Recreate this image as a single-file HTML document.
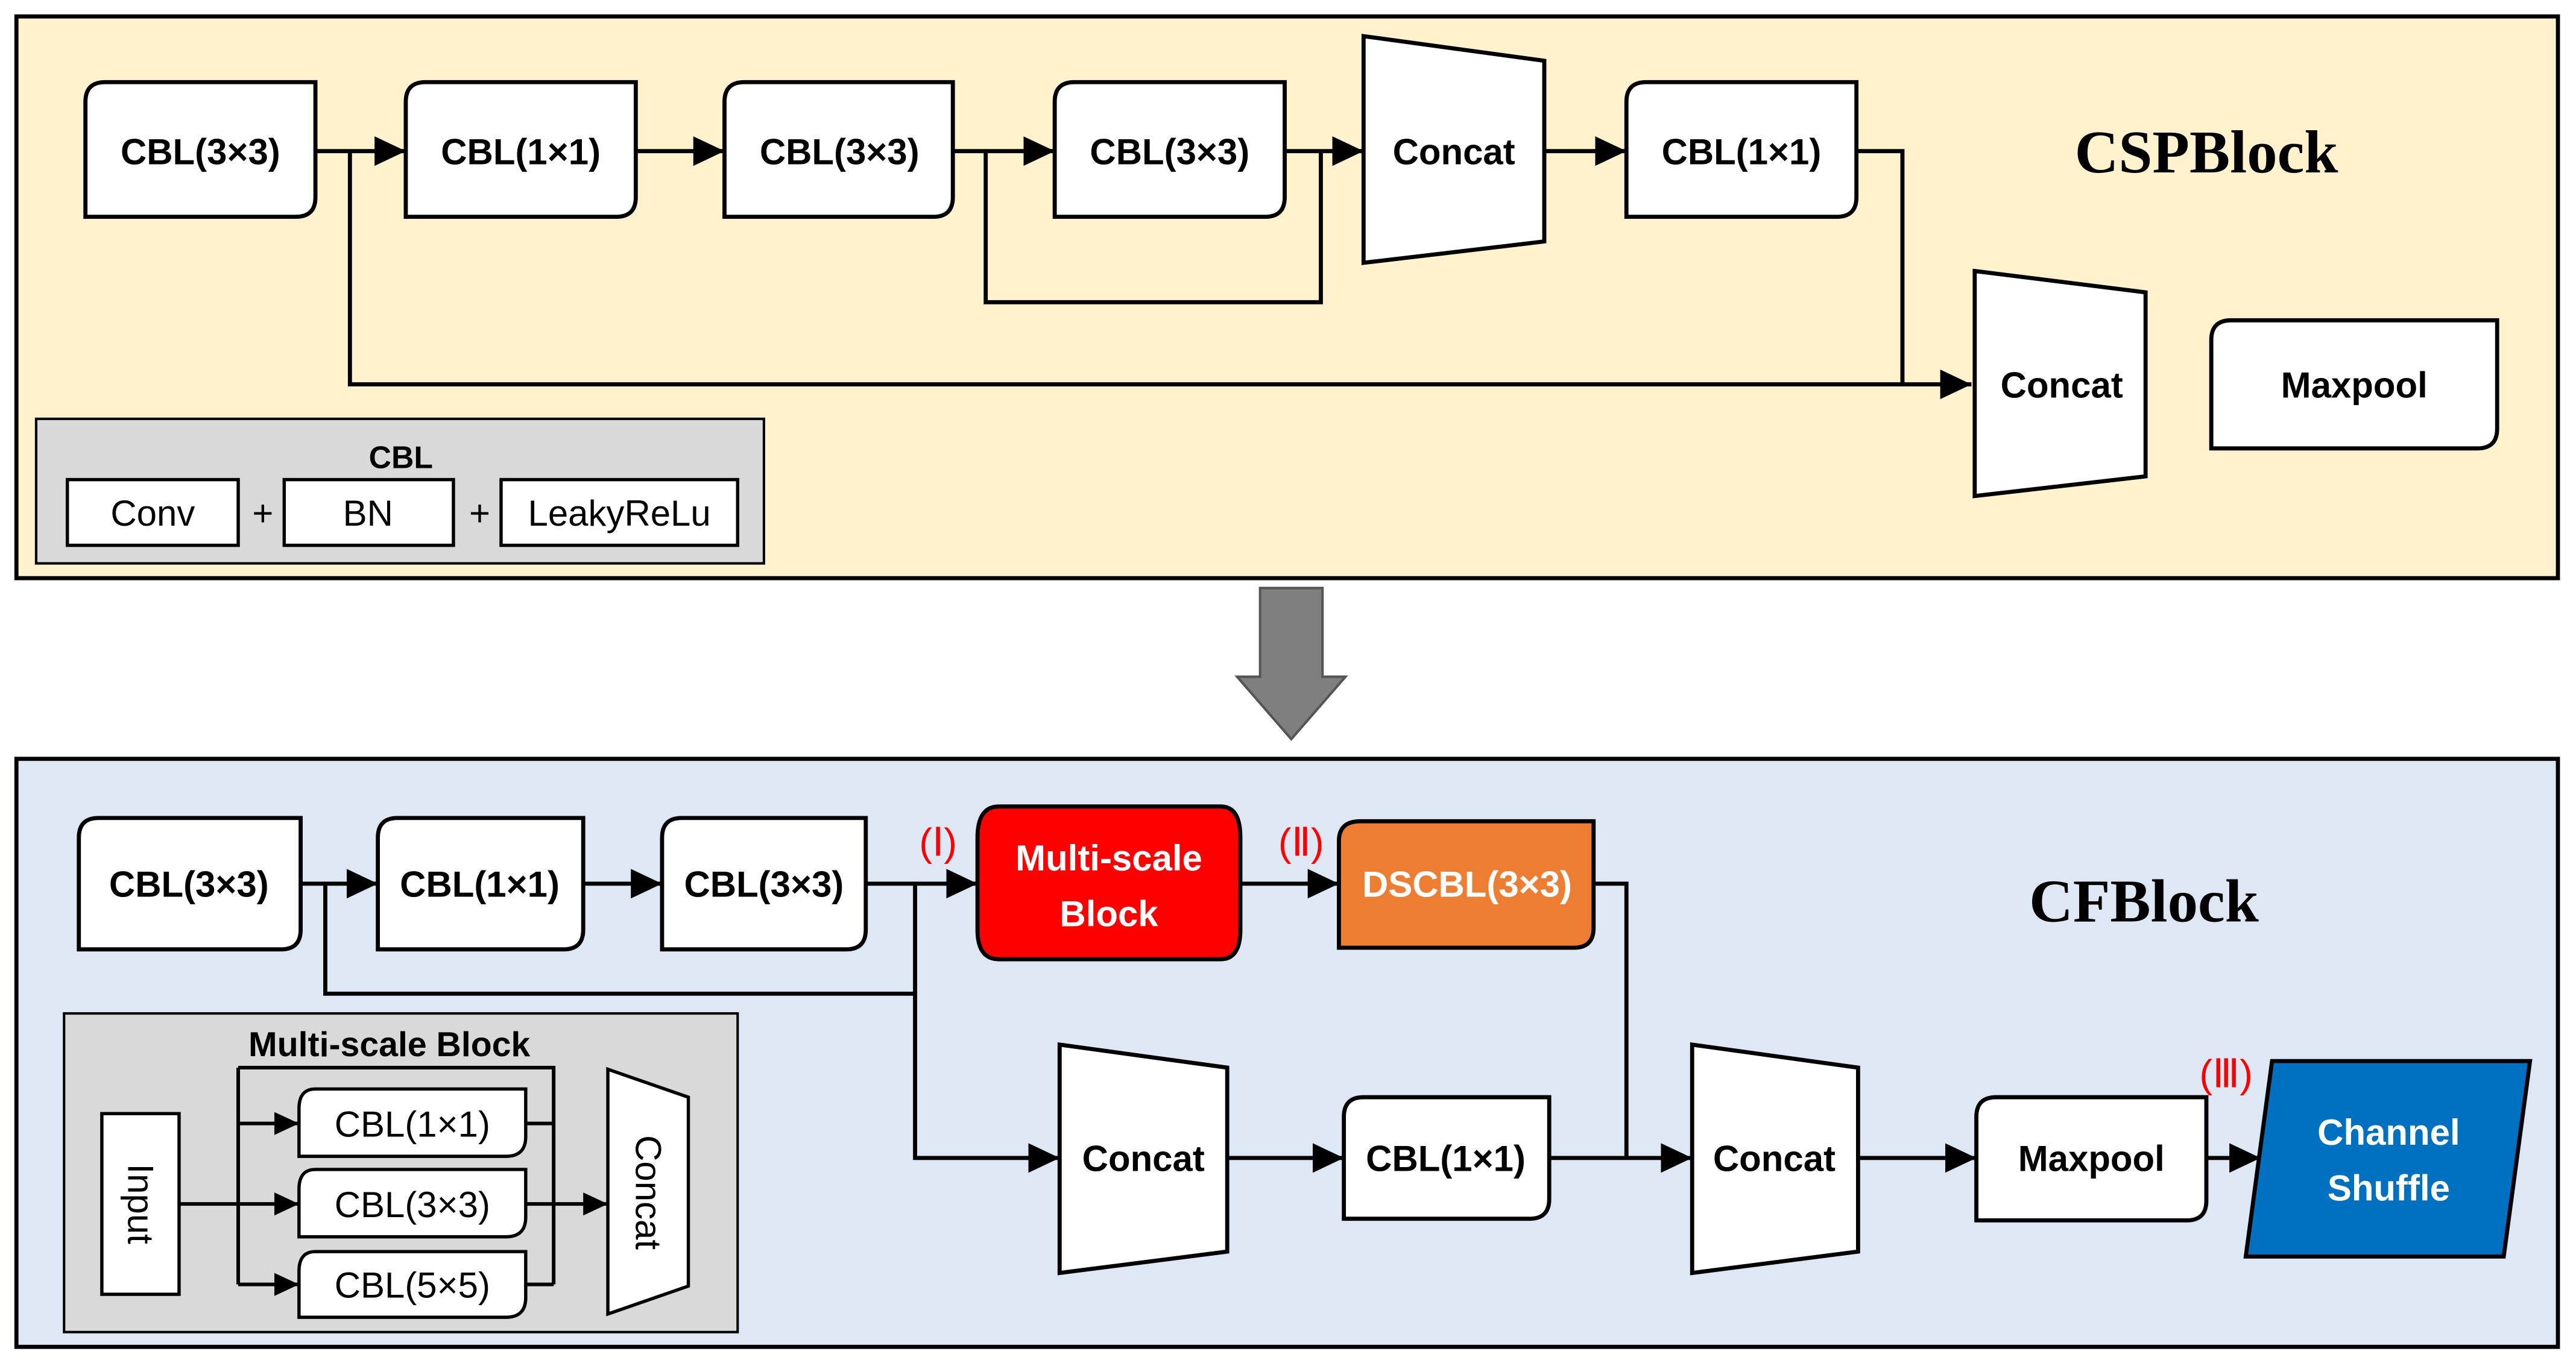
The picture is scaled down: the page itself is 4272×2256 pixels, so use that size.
<!DOCTYPE html>
<html><head><meta charset="utf-8"><style>
html,body{margin:0;padding:0;background:#fff;}
svg{display:block;}
text{font-family:"Liberation Sans",sans-serif;}
.b{font-weight:bold;font-size:22px;}
.n{font-size:22px;}
</style></head><body>
<svg width="4272" height="2256" viewBox="0 0 1568 828" preserveAspectRatio="none" xmlns="http://www.w3.org/2000/svg">
<defs>
<marker id="a" markerWidth="16" markerHeight="16" refX="15" refY="8" orient="auto" markerUnits="userSpaceOnUse"><path d="M0,1 L15,8 L0,15 Z" fill="#000"/></marker>
<marker id="A" markerWidth="20" markerHeight="20" refX="19" refY="10" orient="auto" markerUnits="userSpaceOnUse"><path d="M0,1 L19,10 L0,19 Z" fill="#000"/></marker>
</defs>
<!-- top panel -->
<rect x="10" y="10" width="1547" height="342" fill="#fff2cc" stroke="#000" stroke-width="2.5"/>
<g fill="#fff" stroke="#000" stroke-width="2.5">
<path d="M64,50 H192 V120 Q192,132 180,132 H52 V62 Q52,50 64,50 Z"/>
<path d="M259,50 H387 V120 Q387,132 375,132 H247 V62 Q247,50 259,50 Z"/>
<path d="M453,50 H580 V120 Q580,132 568,132 H441 V62 Q441,50 453,50 Z"/>
<path d="M654,50 H782 V120 Q782,132 770,132 H642 V62 Q642,50 654,50 Z"/>
<path d="M1002,50 H1130 V120 Q1130,132 1118,132 H990 V62 Q990,50 1002,50 Z"/>
<path d="M1358,195 H1520 V261 Q1520,273 1508,273 H1346 V207 Q1346,195 1358,195 Z"/>
<polygon points="830,22 940,37 940,147 830,160"/>
<polygon points="1202,165 1306,178 1306,290 1202,302"/>
</g>
<g stroke="#000" stroke-width="2.5" fill="none">
<line x1="192" y1="92" x2="247" y2="92" marker-end="url(#A)"/>
<polyline points="213,92 213,234 1200,234" marker-end="url(#A)"/>
<line x1="387" y1="92" x2="441" y2="92" marker-end="url(#A)"/>
<line x1="580" y1="92" x2="642" y2="92" marker-end="url(#A)"/>
<polyline points="600,92 600,184 804,184 804,92"/>
<line x1="782" y1="92" x2="830" y2="92" marker-end="url(#A)"/>
<line x1="940" y1="92" x2="990" y2="92" marker-end="url(#A)"/>
<polyline points="1130,92 1158,92 1158,234"/>
</g>
<g class="b" text-anchor="middle">
<text x="122" y="100">CBL(3×3)</text>
<text x="317" y="100">CBL(1×1)</text>
<text x="511" y="100">CBL(3×3)</text>
<text x="712" y="100">CBL(3×3)</text>
<text x="885" y="100">Concat</text>
<text x="1060" y="100">CBL(1×1)</text>
<text x="1255" y="242">Concat</text>
<text x="1433" y="242">Maxpool</text>
</g>
<text x="1343" y="105" text-anchor="middle" style="font-family:'Liberation Serif',serif;font-weight:bold;font-size:37px">CSPBlock</text>
<rect x="22" y="255" width="443" height="88" fill="#d9d9d9" stroke="#000" stroke-width="1.5"/>
<text x="244" y="285" text-anchor="middle" style="font-weight:bold;font-size:19px">CBL</text>
<g fill="#fff" stroke="#000" stroke-width="2">
<rect x="41" y="292" width="104" height="40"/><rect x="173" y="292" width="103" height="40"/><rect x="305" y="292" width="144" height="40"/>
</g>
<g class="n" text-anchor="middle">
<text x="93" y="320">Conv</text><text x="224" y="320">BN</text><text x="377" y="320">LeakyReLu</text>
<text x="160" y="320">+</text><text x="292" y="320">+</text>
</g>
<!-- big arrow -->
<polygon points="767,358 805,358 805,412 819,412 786,450 753,412 767,412" fill="#7f7f7f" stroke="#555" stroke-width="1.5"/>
<!-- bottom panel -->
<rect x="10" y="462" width="1547" height="358" fill="#dee8f4" stroke="#000" stroke-width="2.5"/>
<g fill="#fff" stroke="#000" stroke-width="2.5">
<path d="M60,498 H183 V566 Q183,578 171,578 H48 V510 Q48,498 60,498 Z"/>
<path d="M242,498 H355 V566 Q355,578 343,578 H230 V510 Q230,498 242,498 Z"/>
<path d="M415,498 H527 V566 Q527,578 515,578 H403 V510 Q403,498 415,498 Z"/>
<path d="M608,491 H743 Q755,491 755,510 V566 Q755,584 743,584 H608 Q595,584 595,566 V510 Q595,491 608,491 Z" fill="#ff0000"/>
<path d="M828,500 H970 V565 Q970,577 958,577 H815 V512 Q815,500 828,500 Z" fill="#ed7d31"/>
<path d="M830,668 H943 V730 Q943,742 931,742 H818 V680 Q818,668 830,668 Z"/>
<path d="M1215,668 H1343 V731 Q1343,743 1331,743 H1203 V680 Q1203,668 1215,668 Z"/>
<polygon points="645,636 747,650 747,762 645,775"/>
<polygon points="1030,636 1131,650 1131,762 1030,775"/>
<polygon points="1383,646 1540,646 1524,765 1367,765" fill="#0070c0"/>
</g>
<g stroke="#000" stroke-width="2.5" fill="none">
<line x1="183" y1="538" x2="230" y2="538" marker-end="url(#A)"/>
<polyline points="198,538 198,605 557,605"/>
<line x1="355" y1="538" x2="403" y2="538" marker-end="url(#A)"/>
<line x1="527" y1="538" x2="595" y2="538" marker-end="url(#A)"/>
<polyline points="557,538 557,705 645,705" marker-end="url(#A)"/>
<line x1="755" y1="538" x2="815" y2="538" marker-end="url(#A)"/>
<polyline points="970,538 990,538 990,705"/>
<line x1="747" y1="705" x2="818" y2="705" marker-end="url(#A)"/>
<line x1="943" y1="705" x2="1030" y2="705" marker-end="url(#A)"/>
<line x1="1131" y1="705" x2="1203" y2="705" marker-end="url(#A)"/>
<line x1="1343" y1="705" x2="1376" y2="705" marker-end="url(#A)"/>
</g>
<g class="b" text-anchor="middle">
<text x="115" y="546">CBL(3×3)</text>
<text x="292" y="546">CBL(1×1)</text>
<text x="465" y="546">CBL(3×3)</text>
<text x="675" y="530" fill="#fff">Multi-scale</text>
<text x="675" y="564" fill="#fff">Block</text>
<text x="893" y="546" fill="#fff">DSCBL(3×3)</text>
<text x="696" y="713">Concat</text>
<text x="880" y="713">CBL(1×1)</text>
<text x="1080" y="713">Concat</text>
<text x="1273" y="713">Maxpool</text>
<text x="1454" y="697" fill="#fff">Channel</text>
<text x="1454" y="731" fill="#fff">Shuffle</text>
</g>
<g fill="#ff0000" text-anchor="middle" style="font-family:'Liberation Serif','Noto Serif CJK SC',serif;font-size:24px">
<text x="571" y="521">(Ⅰ)</text><text x="792" y="521">(Ⅱ)</text><text x="1355" y="662">(Ⅲ)</text>
</g>
<text x="1305" y="561" text-anchor="middle" style="font-family:'Liberation Serif',serif;font-weight:bold;font-size:37px">CFBlock</text>
<!-- multi-scale legend -->
<rect x="39" y="617" width="410" height="194" fill="#d9d9d9" stroke="#000" stroke-width="1.5"/>
<text x="237" y="643" text-anchor="middle" style="font-weight:bold;font-size:21px">Multi-scale Block</text>
<g fill="#fff" stroke="#000" stroke-width="2">
<rect x="62" y="678" width="47" height="110"/>
<path d="M192,663 H320 V692 Q320,704 308,704 H182 V675 Q182,663 192,663 Z"/>
<path d="M192,712 H320 V741 Q320,753 308,753 H182 V724 Q182,712 192,712 Z"/>
<path d="M192,762 H320 V790 Q320,802 308,802 H182 V774 Q182,762 192,762 Z"/>
<polygon points="370,651 419,668 419,783 370,800"/>
</g>
<g stroke="#000" stroke-width="2.2" fill="none">
<line x1="109" y1="733" x2="182" y2="733" marker-end="url(#a)"/>
<polyline points="145,650 337,650 337,782"/>
<line x1="145" y1="650" x2="145" y2="782"/>
<line x1="145" y1="684" x2="182" y2="684" marker-end="url(#a)"/>
<line x1="145" y1="782" x2="182" y2="782" marker-end="url(#a)"/>
<line x1="320" y1="684" x2="337" y2="684"/>
<line x1="320" y1="782" x2="337" y2="782"/>
<line x1="320" y1="733" x2="370" y2="733" marker-end="url(#a)"/>
</g>
<g class="n" text-anchor="middle">
<text x="251" y="692">CBL(1×1)</text>
<text x="251" y="741">CBL(3×3)</text>
<text x="251" y="790">CBL(5×5)</text>
<text transform="translate(78,733) rotate(90)" y="0">Input</text>
<text transform="translate(387,726) rotate(90)" y="0">Concat</text>
</g>
</svg>
</body></html>
